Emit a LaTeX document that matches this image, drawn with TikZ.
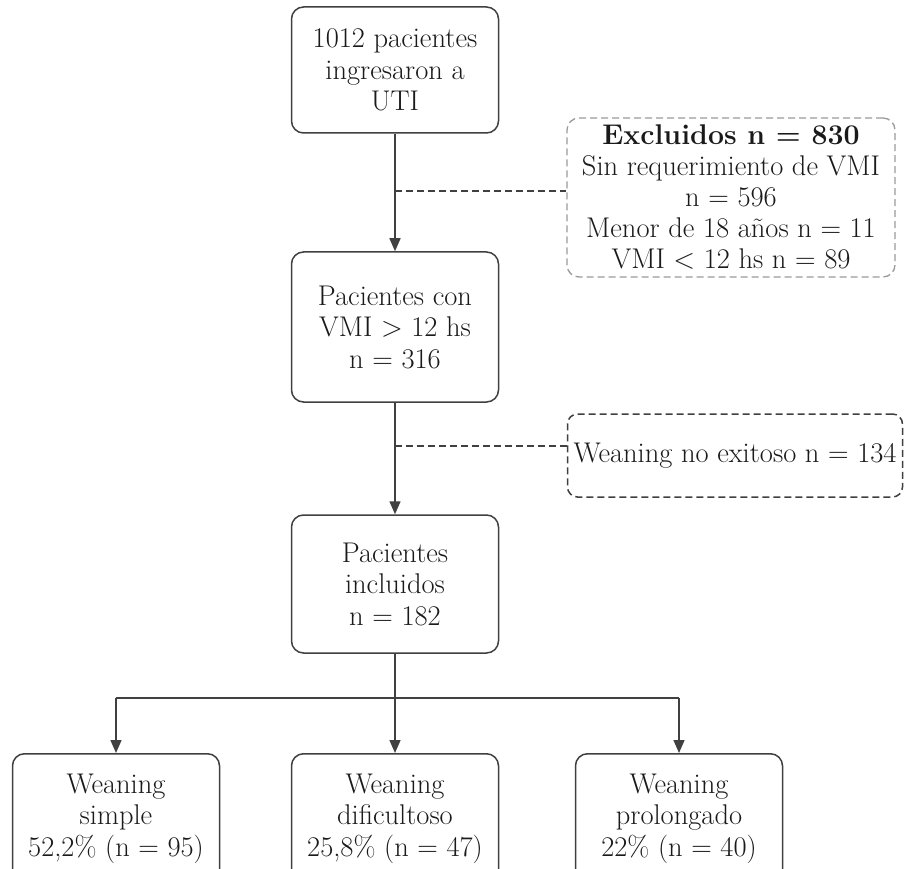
\documentclass[tikz,border=0pt]{standalone}
\usetikzlibrary{arrows.meta}
\definecolor{linec}{HTML}{404040}
\definecolor{textc}{HTML}{1A1A1A}
\definecolor{lightc}{HTML}{9A9A9A}
\tikzset{
  box/.style={draw=linec, line width=1.5pt, rounded corners=12pt, align=center,
    font=\fontsize{28.5}{31.5}\selectfont, text=textc, inner sep=0pt, minimum width=207pt},
  exbox/.style={draw=lightc, line width=1.3pt, dash pattern=on 7pt off 4pt, rounded corners=12pt,
    align=center, font=\fontsize{28.5}{31}\selectfont, text=textc, inner sep=0pt},
  wnbox/.style={draw=linec, line width=1.5pt, dash pattern=on 7pt off 4pt, rounded corners=10pt,
    align=center, font=\fontsize{28.5}{31}\selectfont, text=textc, inner sep=0pt},
  arr/.style={draw=linec, line width=1.5pt, -{Triangle[length=13pt,width=11pt]}},
  plainline/.style={draw=linec, line width=1.5pt},
  dashline/.style={draw=linec, line width=1.5pt, dash pattern=on 7pt off 4pt}
}
\begin{document}
\begin{tikzpicture}[x=1pt,y=-1pt]
\fill[white] (0,0) rectangle (905,869);
\useasboundingbox (0,0) rectangle (905,869);

\node[box, minimum height=126pt] (b1) at (395,70) {1012 pacientes\\ingresaron a\\UTI};
\node[box, minimum height=150pt] (b2) at (395,327) {Pacientes con\\VMI \textgreater{} 12 hs\\n = 316};
\node[box, minimum height=138pt] (b3) at (395,584) {Pacientes\\incluidos\\n = 182};

\node[exbox, minimum width=328pt, minimum height=159pt] (ex) at (731,197.5)
  {\textbf{Excluidos n = 830}\\Sin requerimiento de VMI\\n = 596\\Menor de 18 a\~{n}os n = 11\\VMI \textless{} 12 hs n = 89};
\node[wnbox, minimum width=335pt, minimum height=83pt] (wn) at (735,455.5)
  {Weaning no exitoso n = 134};

\node[box, anchor=north, minimum height=130pt] (w1) at (116,753) {Weaning\\simple\\52,2\% (n = 95)};
\node[box, anchor=north, minimum height=130pt] (w2) at (395,753) {Weaning\\dificultoso\\25,8\% (n = 47)};
\node[box, anchor=north, minimum height=130pt] (w3) at (679,753) {Weaning\\prolongado\\22\% (n = 40)};

\draw[arr] (b1) -- (b2);
\coordinate (j1) at (395,191);
\draw[dashline] (j1) -- (j1 -| ex.west);

\draw[arr] (b2) -- (b3);
\coordinate (j2) at (395,446);
\draw[dashline] (j2) -- (j2 -| wn.west);

\coordinate (br) at (395,698);
\draw[plainline] (b3.south) -- (br);
\draw[plainline] (br -| w1) -- (br -| w3);
\draw[arr] (br -| w1) -- (w1.north);
\draw[arr] (br) -- (w2.north);
\draw[arr] (br -| w3) -- (w3.north);
\end{tikzpicture}
\end{document}
